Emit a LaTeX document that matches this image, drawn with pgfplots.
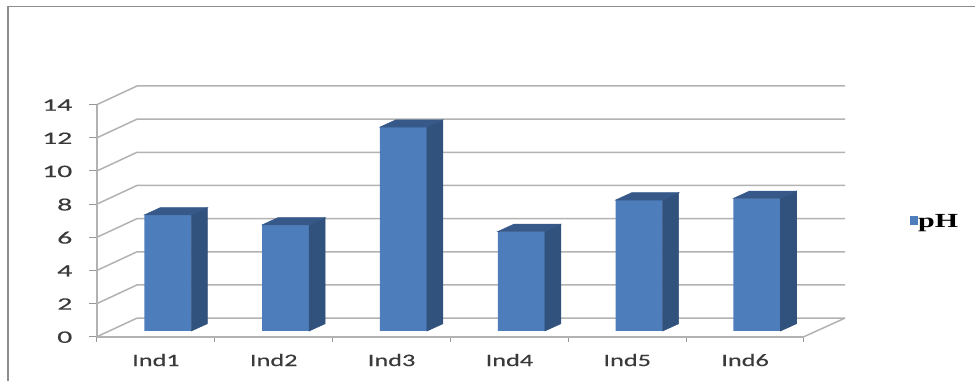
\documentclass[border=0pt]{standalone}
\usepackage{fontspec}
\usepackage{pgfplots}
\usepackage{pgfplotstable}
\pgfplotsset{compat=1.18}
\newfontfamily\tickfont[FakeStretch=1.5,FakeBold=0.3]{Carlito}
\newfontfamily\valfont[FakeStretch=1.7,FakeBold=0.3]{Carlito}
\newfontfamily\legfont[FakeStretch=1.5]{Liberation Serif}

% one drawing unit
\newlength\pxu \setlength\pxu{0.75pt}

\definecolor{barfront}{HTML}{4D7EBB}
\definecolor{barside}{HTML}{31527C}
\definecolor{bartop}{HTML}{36598A}
\definecolor{gridgray}{HTML}{B2B2B2}
\definecolor{framegray}{HTML}{8C8C8C}
\definecolor{labelgray}{HTML}{3A3A3A}

\pgfplotstableread{
idx ph
0   7.0
1   6.4
2   12.3
3   6.0
4   7.9
5   8.0
}\phtable

% depth faces of a bar: the mark sits on the value, in the plane of the axes
\pgfdeclareplotmark{barcap}{%
  \pgftransformshift{\pgfqpoint{11.9\pxu}{5.7\pxu}}%
  \pgfmathsetlengthmacro\barh{\barval*16.58\pxu}%
  \fill[barside] (23.5\pxu,0pt) -- (39.5\pxu,7.3\pxu) -- (39.5\pxu,7.3\pxu-\barh) -- (23.5\pxu,-\barh) -- cycle;
  \fill[bartop] (-23.5\pxu,0pt) -- (23.5\pxu,0pt) -- (39.5\pxu,7.3\pxu) -- (-7.5\pxu,7.3\pxu) -- cycle;
}

\begin{document}
\begin{tikzpicture}
\useasboundingbox (-97\pxu,-44.3\pxu) rectangle (878\pxu,336.7\pxu);
% chart frame, top and left sides
\draw[framegray,line width=1.6\pxu] (-89\pxu,-44.3\pxu) -- (-89\pxu,330\pxu) -- (878\pxu,330\pxu);
\begin{axis}[
  scale only axis,
  width=707\pxu, height=232.1\pxu,
  xmin=-0.5, xmax=5.5, ymin=0, ymax=14,
  clip=false,
  axis x line*=bottom, axis y line*=left,
  axis line style={gridgray,line width=2.2\pxu,-},
  tick align=outside,
  tickwidth=8\pxu, subtickwidth=5\pxu,
  xtick={0,1,2,3,4,5},
  xticklabels={Ind1,Ind2,Ind3,Ind4,Ind5,Ind6},
  minor xtick={-0.5,0.5,1.5,2.5,3.5,4.5,5.5},
  major x tick style={draw=none},
  minor x tick style={gridgray!85!black,line width=1\pxu},
  ytick={0,2,4,6,8,10,12,14},
  y tick style={gridgray!85!black,line width=1\pxu},
  /pgf/number format/assume math mode=true,
  xticklabel style={font=\tickfont\fontsize{17.5\pxu}{20\pxu}\selectfont,text=labelgray,yshift=-4.5\pxu},
  yticklabel style={font=\valfont\fontsize{17.5\pxu}{20\pxu}\selectfont,text=labelgray,xshift=-12\pxu,yshift=-0.5\pxu},
  legend style={at={(1.149,0.494)},anchor=west,draw=none,fill=none,inner sep=0pt,
    font=\legfont\bfseries\fontsize{20\pxu}{22\pxu}\selectfont,text=black,
    nodes={inner sep=0pt}},
  legend image code/.code={\fill[barfront] (0pt,-8.5\pxu) rectangle (8.5\pxu,0.5\pxu);},
  legend cell align=left,
]
% back wall, side wall and floor
\pgfplotsinvokeforeach{0,2,4,6,8,10,12,14}{
  \draw[gridgray,line width=1.5\pxu] (axis cs:-0.5,#1) -- ++(40\pxu,18.6\pxu) -- ++(708\pxu,0pt);
}
\draw[gridgray,line width=1.5\pxu] (axis cs:5.5,0) -- ++(41\pxu,18.6\pxu);

% front faces
\addplot[ybar,bar width=47\pxu,bar shift=0pt,fill=barfront,draw=none,
  xshift=11.9\pxu,yshift=5.7\pxu] table[x=idx,y=ph] {\phtable};
\addlegendentry{pH}

% side and top faces
\addplot[forget plot,scatter,only marks,mark=barcap,
  visualization depends on={rawy \as \barval}]
  table[x=idx,y=ph] {\phtable};
\end{axis}
\end{tikzpicture}
\end{document}
